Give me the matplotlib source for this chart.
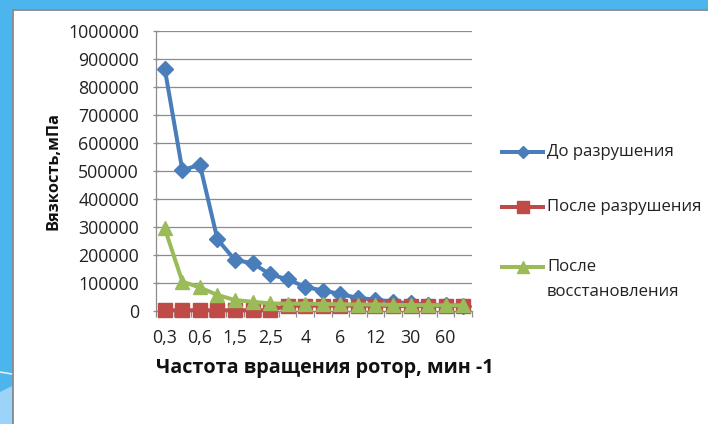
import matplotlib
matplotlib.use("Agg")
import matplotlib.pyplot as plt
from matplotlib.lines import Line2D
from matplotlib.patches import Rectangle, Polygon
import numpy as np

# ---- data ----
speeds = ["0,3", "0,5", "0,6", "1", "1,5", "2", "2,5", "3", "4", "5",
          "6", "10", "12", "20", "30", "50", "60", "100"]
before = [865000, 502000, 522000, 255000, 181000, 170000, 130000, 112000, 85000,
          72000, 60000, 45000, 40000, 32000, 26000, 22000, 20000, 18000]
after = [1500, 1500, 1500, 1500, 1500, 1500, 1500, 18000, 18000, 18000,
         18000, 18000, 18000, 17000, 17000, 17000, 17000, 17000]
restored = [294000, 104000, 83000, 56000, 38000, 32000, 26000, 25000, 25000,
            24000, 23000, 22000, 22000, 21000, 20000, 20000, 19000, 19000]
series_names = ["До разрушения", "После разрушения", "После", "восстановления"]
y_ticks = [0, 100000, 200000, 300000, 400000, 500000, 600000, 700000, 800000, 900000, 1000000]
x_title = "Частота вращения ротор, мин -1"
y_title = "Вязкость,мПа"

BLUE = "#4A7EBB"
RED = "#BE4B48"
GREEN = "#9BBB59"
GRID = "#8C8C8C"

plt.rcParams['font.family'] = ['Open Sans', 'DejaVu Sans']

W, H = 708, 424
fig = plt.figure(figsize=(W / 100, H / 100), dpi=100)
fig.patch.set_facecolor("#4DB5EE")

# slide background
fig.patches.append(Polygon([[0, 0], [12 / W, 0], [12 / W, 1 - 386 / H], [0, 1 - 392 / H]],
                           closed=True, transform=fig.transFigure, facecolor="#9BD4F8",
                           edgecolor="none", zorder=-2))
fig.add_artist(Line2D([0, 12 / W], [1 - 372 / H, 1 - 374 / H], transform=fig.transFigure,
                      color="white", lw=1.2, alpha=0.8, zorder=-2))
fig.patches.append(Rectangle((12.5 / W, -0.01), 1, 1 - 9.5 / H + 0.01, transform=fig.transFigure,
                             facecolor="white", edgecolor="#8A8A8A", lw=1.3, zorder=-1))

ax = fig.add_axes([156 / W, 1 - 310.7 / H, 316 / W, 279.7 / H])
ax.set_zorder(2)
ax.set_facecolor("none")
x = np.arange(len(speeds))

ax.plot(x, before, color=BLUE, lw=2.9, marker="D", ms=8.5, mfc=BLUE, mec=BLUE, zorder=3,
        clip_on=False)
ax.plot(x, after, color=RED, lw=2.9, marker="s", ms=10.5, mfc=RED, mec=RED, zorder=4,
        clip_on=False)
ax.plot(x, restored, color=GREEN, lw=2.9, marker="^", ms=10.5, mfc=GREEN, mec=GREEN, zorder=5,
        clip_on=False)

ax.set_xlim(-0.5, len(speeds) - 0.5)
ax.set_ylim(0, 1000000)
ax.set_yticks(y_ticks)
ax.set_yticklabels([str(v) for v in y_ticks])
ax.set_xticks(x[::2])
ax.set_xticklabels(speeds[::2])
ax.set_xticks(np.arange(len(speeds) + 1) - 0.5, minor=True)

ax.grid(axis="y", color=GRID, lw=0.9, zorder=0)
ax.set_axisbelow(True)
for s in ["top", "right"]:
    ax.spines[s].set_visible(False)
for s in ["left", "bottom"]:
    ax.spines[s].set_color(GRID)
    ax.spines[s].set_linewidth(0.9)

ax.tick_params(axis="y", direction="inout", length=4.5, width=0.9, color=GRID,
               labelsize=12.8, pad=10, labelcolor="#222222")
ax.tick_params(axis="x", which="major", length=0, labelsize=12.8, pad=13, labelcolor="#222222")
ax.tick_params(axis="x", which="minor", direction="out", length=4, width=0.9, color=GRID)

ax.set_ylabel(y_title, fontsize=11.8, fontweight="bold", color="#111111")
ax.yaxis.set_label_coords(-0.30, 0.5)
ax.set_xlabel(x_title, fontsize=14.2, fontweight="bold", color="#111111")
ax.xaxis.set_label_coords(0.535, -0.205)
ax.xaxis.label.set_va("center")

# legend (drawn manually in figure coordinates)
leg_rows = [151.7, 207.0, 266.7]
styles = [(BLUE, "D", 6.5), (RED, "s", 8.5), (GREEN, "^", 8.5)]
for (c, m, ms), yy in zip(styles, leg_rows):
    fy = 1 - yy / H
    fig.add_artist(Line2D([502 / W, 543 / W], [fy, fy], transform=fig.transFigure, color=c, lw=2.9))
    fig.add_artist(Line2D([522.5 / W], [fy], transform=fig.transFigure, color=c, marker=m, ms=ms,
                          mfc=c, mec=c))
fig.text(547 / W, 1 - 151.7 / H, series_names[0], fontsize=12.1, va="center", color="#222222")
fig.text(547 / W, 1 - 207.0 / H, series_names[1], fontsize=12.1, va="center", color="#222222")
fig.text(547 / W, 1 - 266.7 / H, series_names[2], fontsize=12.1, va="center", color="#222222")
fig.text(547 / W, 1 - 291.7 / H, series_names[3], fontsize=12.1, va="center", color="#222222")

fig.savefig("out.png", dpi=100, facecolor=fig.get_facecolor())
